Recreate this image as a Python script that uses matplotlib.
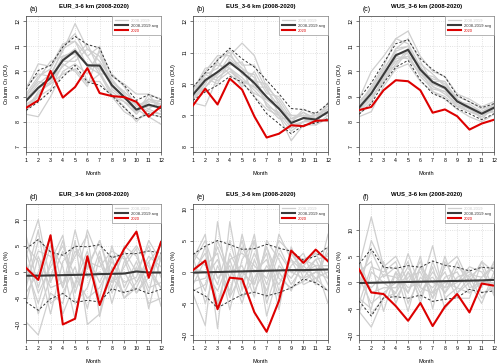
import matplotlib.pyplot as plt

plt.rcParams['font.family'] = ['Liberation Sans', 'DejaVu Sans']

months = list(range(1, 13))

# ---- top row: column O3 (DU) ----
eur_red = [8.55, 8.85, 10.02, 8.96, 9.38, 10.13, 9.14, 9.02, 8.98, 8.79, 8.2, 8.61]
eur_avg = [8.83, 9.35, 9.74, 10.44, 10.81, 10.24, 10.23, 9.45, 8.98, 8.48, 8.68, 8.55]
eur_hi = [9.27, 10.04, 10.24, 10.97, 11.39, 11.07, 10.93, 9.84, 9.45, 8.85, 9.08, 8.88]
eur_lo = [8.45, 8.79, 9.22, 9.78, 10.24, 9.58, 9.45, 9.05, 8.56, 8.12, 8.32, 8.19]
eur_years = [
    [8.9, 9.5, 9.9, 10.8, 11.9, 10.9, 10.6, 9.6, 9.1, 8.3, 8.9, 8.6],
    [8.3, 8.2, 9.0, 10.0, 10.3, 9.9, 10.8, 9.3, 8.9, 8.7, 8.4, 8.3],
    [9.3, 10.3, 10.2, 11.1, 11.2, 10.2, 9.9, 9.9, 9.4, 8.6, 8.9, 8.8],
    [8.6, 9.1, 9.6, 10.2, 10.6, 11.1, 10.0, 9.1, 8.6, 8.0, 8.5, 8.3],
    [9.0, 9.7, 10.4, 10.6, 10.8, 9.6, 9.6, 9.0, 8.8, 8.5, 8.2, 7.9],
    [8.5, 9.0, 9.3, 10.3, 10.0, 9.4, 10.9, 9.8, 9.5, 9.1, 9.1, 8.9],
    [9.1, 9.8, 10.1, 11.0, 11.5, 10.6, 11.0, 9.4, 9.0, 8.4, 8.8, 8.7],
    [8.8, 9.3, 9.7, 10.6, 10.7, 10.3, 10.1, 9.6, 9.2, 8.7, 8.6, 8.6],
    [8.4, 9.2, 9.5, 9.9, 10.1, 9.5, 9.9, 9.0, 8.4, 8.1, 8.3, 8.2],
    [9.4, 9.9, 9.8, 10.4, 10.4, 10.9, 10.4, 9.7, 9.1, 8.5, 8.9, 8.7],
    [8.7, 9.0, 9.8, 10.9, 11.2, 10.6, 9.9, 9.2, 8.8, 8.3, 9.1, 8.4],
    [9.0, 9.6, 9.5, 10.5, 10.9, 10.2, 10.3, 9.5, 9.0, 8.8, 8.5, 8.9],
]

eus_red = [9.32, 9.85, 9.35, 10.17, 9.82, 8.97, 8.3, 8.42, 8.69, 8.66, 8.83, 8.85]
eus_avg = [9.66, 10.12, 10.38, 10.68, 10.38, 10.03, 9.59, 9.22, 8.76, 8.92, 8.87, 9.11]
eus_hi = [9.9, 10.35, 10.75, 11.14, 10.8, 10.54, 10.12, 9.69, 9.22, 9.19, 9.06, 9.38]
eus_lo = [9.48, 9.75, 9.96, 10.24, 10.06, 9.59, 9.06, 8.74, 8.42, 8.69, 8.76, 8.9]
eus_years = [
    [9.8, 10.4, 10.9, 10.9, 11.3, 10.9, 9.9, 9.5, 8.9, 9.1, 8.9, 9.4],
    [9.4, 9.3, 10.2, 10.5, 10.2, 9.8, 9.4, 9.0, 8.2, 8.7, 8.7, 9.0],
    [9.9, 10.3, 10.5, 11.1, 10.6, 10.6, 9.8, 9.3, 8.8, 9.2, 9.0, 9.2],
    [9.5, 10.0, 10.7, 10.3, 10.0, 9.7, 9.5, 9.4, 8.6, 8.8, 8.8, 8.9],
    [9.7, 10.2, 10.0, 10.8, 10.4, 10.3, 9.3, 8.9, 8.9, 9.0, 8.9, 9.3],
    [9.6, 9.9, 10.3, 10.6, 10.7, 9.9, 9.9, 9.0, 8.5, 8.8, 9.0, 9.1],
    [9.8, 10.5, 10.6, 10.5, 9.9, 10.4, 9.7, 9.6, 9.0, 9.0, 8.7, 8.9],
    [9.5, 10.1, 10.3, 10.9, 10.5, 9.6, 9.2, 9.0, 8.8, 8.9, 8.8, 9.4],
    [9.7, 10.3, 10.1, 10.4, 10.1, 9.9, 9.6, 9.2, 8.7, 8.8, 9.1, 9.0],
    [9.9, 10.0, 10.8, 11.0, 10.3, 10.1, 10.0, 9.4, 8.8, 9.1, 8.8, 9.2],
    [9.5, 9.9, 10.4, 10.7, 10.5, 10.2, 9.3, 9.1, 8.6, 8.8, 8.9, 8.8],
    [9.6, 10.4, 10.2, 10.5, 10.1, 9.9, 9.5, 9.2, 9.0, 9.0, 9.0, 9.2],
]

wus_red = [8.46, 8.59, 9.25, 9.65, 9.61, 9.25, 8.36, 8.49, 8.22, 7.69, 7.93, 8.08]
wus_avg = [8.56, 9.12, 9.88, 10.64, 10.86, 10.07, 9.58, 9.35, 8.81, 8.56, 8.32, 8.56]
wus_hi = [8.92, 9.54, 10.33, 11.1, 11.26, 10.5, 10.07, 9.78, 9.05, 8.79, 8.56, 8.72]
wus_lo = [8.3, 8.72, 9.54, 10.17, 10.44, 9.65, 9.12, 8.92, 8.52, 8.32, 8.08, 8.32]
wus_years = [
    [8.9, 10.0, 10.6, 11.3, 11.6, 10.6, 10.0, 9.8, 9.1, 8.9, 8.6, 8.8],
    [8.2, 8.4, 9.4, 10.1, 10.3, 9.6, 9.2, 8.9, 8.5, 8.2, 8.0, 8.3],
    [8.6, 9.2, 10.0, 10.9, 11.3, 10.4, 9.5, 9.3, 8.8, 8.7, 8.4, 8.6],
    [8.4, 8.9, 9.7, 10.5, 10.6, 9.9, 9.8, 9.5, 8.9, 8.6, 8.3, 8.5],
    [8.7, 9.4, 10.2, 11.3, 11.1, 10.2, 9.4, 9.1, 8.7, 8.4, 8.2, 8.7],
    [8.5, 9.0, 9.6, 10.3, 10.9, 10.0, 9.7, 9.6, 8.9, 8.5, 8.4, 8.4],
    [8.6, 9.3, 9.9, 10.7, 10.7, 9.8, 9.3, 9.2, 8.6, 8.6, 8.1, 8.6],
    [8.3, 8.8, 9.8, 10.4, 10.6, 10.3, 9.9, 9.4, 9.0, 8.8, 8.5, 8.7],
    [8.8, 9.3, 10.1, 10.8, 11.0, 10.1, 9.2, 9.0, 8.6, 8.4, 8.3, 8.4],
    [8.5, 9.0, 9.5, 10.6, 10.5, 9.9, 9.6, 9.6, 8.8, 8.5, 8.3, 8.5],
    [8.6, 9.1, 10.0, 10.2, 10.8, 10.2, 9.5, 9.3, 8.8, 8.6, 8.4, 8.7],
    [8.4, 9.2, 9.7, 10.9, 11.0, 9.9, 9.4, 9.2, 8.7, 8.5, 8.2, 8.5],
]

# ---- bottom row: column dO3 (%) ----
eur_dred = [0.8, -1.5, 7.0, -10.0, -8.9, 3.0, -6.3, 0.0, 4.4, 7.7, -1.1, 5.7]
eur_davg = [-0.7, -0.7, -0.65, -0.6, -0.55, -0.5, -0.4, -0.35, -0.3, 0.1, -0.1, -0.1]
eur_dhi = [4.4, 6.2, 3.8, 3.2, 4.9, 4.8, 5.2, 2.7, 3.5, 3.5, 4.0, 3.6]
eur_dlo = [-5.7, -7.3, -5.1, -4.1, -5.8, -5.4, -5.7, -3.2, -3.9, -3.2, -4.1, -3.3]
eur_dyears = [
    [3.0, 10.0, -2.0, 4.0, -3.0, 8.0, 2.0, -4.0, 1.0, 4.5, -7.0, 3.0],
    [-9.5, -12.0, -4.0, -6.0, 6.0, -10.0, -8.0, 3.0, -5.0, -3.0, 2.0, -6.5],
    [5.0, 2.0, -8.0, 2.0, 5.0, 0.5, 6.0, -2.0, 4.0, 0.0, 5.0, -1.0],
    [-3.0, 6.0, 4.0, -8.0, -2.0, 4.0, -5.0, 5.0, -3.0, 2.0, -4.0, 6.0],
    [1.0, -6.0, 2.0, 7.0, -6.0, -3.0, 4.0, -6.0, 2.0, 5.0, 1.0, -3.0],
    [-6.0, 3.0, -3.0, -2.0, 3.0, 7.0, -8.5, 1.0, -5.0, -2.0, 3.0, 1.0],
    [7.0, -3.0, 5.0, 1.0, -9.0, 2.0, 1.0, 4.0, 2.5, -4.0, -1.0, 3.5],
    [-1.0, 8.0, -6.0, -4.0, 1.0, -7.0, 3.0, -3.0, 5.0, 3.0, -3.0, -2.0],
    [4.0, -4.0, 1.0, 5.0, -1.0, -5.0, -3.0, 2.0, -2.0, -1.0, 6.0, 2.0],
    [-4.0, 0.0, 7.0, -3.0, 4.0, 1.0, 6.0, -1.0, -4.0, 1.0, -6.0, -5.0],
    [2.0, -8.0, -1.0, 6.0, -4.0, 3.0, -2.0, 3.0, 3.0, -2.0, 2.0, 5.0],
    [-2.0, 4.0, 3.0, -3.0, 8.0, -1.0, 0.0, -2.0, 0.0, -4.0, 0.0, -3.0],
]

eus_dred = [0.3, 1.8, -5.9, -0.9, -1.1, -6.4, -9.5, -4.6, 3.4, 1.45, 3.56, 1.7]
eus_davg = [-0.1, -0.05, 0.0, 0.05, 0.1, 0.15, 0.2, 0.25, 0.3, 0.3, 0.35, 0.4]
eus_dhi = [2.8, 4.1, 5.0, 4.35, 3.6, 3.7, 4.4, 3.8, 3.3, 1.9, 2.5, 4.0]
eus_dlo = [-2.8, -3.8, -5.7, -4.6, -3.6, -3.2, -3.8, -3.3, -2.5, -1.1, -1.7, -3.0]
eus_dyears = [
    [2.0, 6.0, -9.0, 8.0, -3.0, 5.0, -4.0, 6.0, 2.0, 0.0, 1.0, -5.0],
    [-3.5, -8.5, 8.0, -4.0, 6.0, -2.0, 4.0, -3.0, 1.0, 3.0, -2.0, 6.0],
    [3.0, 1.0, 3.0, -6.0, 2.0, 5.0, -7.0, 0.0, -3.0, 2.0, 3.0, -1.0],
    [-1.0, 4.0, -5.0, 2.0, -4.0, -1.0, 3.0, -6.0, 4.0, -1.0, 0.0, 3.0],
    [1.0, -3.0, 5.0, 0.0, 1.0, -4.0, 5.0, 2.0, -2.0, 1.0, -1.0, 0.0],
    [-2.0, 2.0, -2.0, 5.0, -2.0, 3.0, -2.0, 4.0, 0.0, -1.0, 2.0, -2.0],
    [2.5, -5.0, 1.0, -3.0, 4.0, 0.0, 2.0, -4.0, 3.0, 0.5, -2.0, 4.0],
    [0.0, 3.0, -6.0, 3.0, -1.0, 6.0, -5.0, 1.0, -1.0, 2.0, 1.0, 1.0],
    [-3.0, -2.0, 4.0, -1.0, 5.0, -3.0, 1.0, -2.0, 2.0, -2.0, -1.0, -3.0],
    [1.5, 5.0, -1.0, 1.0, -5.0, 2.0, -3.0, 3.0, 0.0, 1.0, 3.0, 2.0],
    [-1.5, -1.0, 2.0, -4.0, 0.0, -2.0, 4.0, -1.0, -2.5, -1.5, 0.0, -1.0],
    [0.5, 0.0, -3.0, 2.0, 3.0, 1.0, -1.0, 5.0, 3.0, 0.0, 2.0, 2.5],
]

wus_dred = [2.55, -1.9, -2.2, -4.5, -7.3, -3.9, -8.3, -4.6, -2.2, -5.7, -0.2, -0.6]
wus_davg = [-0.1, -0.05, 0.0, 0.05, 0.1, 0.15, 0.2, 0.25, 0.3, 0.35, 0.4, 0.5]
wus_dhi = [3.5, 6.4, 2.9, 2.7, 3.2, 2.9, 4.1, 3.3, 2.9, 2.2, 2.9, 2.7]
wus_dlo = [-3.5, -6.4, -2.9, -2.7, -3.0, -2.4, -3.6, -3.2, -2.9, -1.3, -1.9, -1.6]
wus_dyears = [
    [3.0, 12.5, 3.0, 5.0, 0.0, 4.0, -2.0, 3.0, 5.0, 0.0, 4.0, 2.0],
    [-5.5, -8.5, -3.0, -2.0, 5.5, -1.0, 7.0, -3.0, -1.0, 2.5, -2.0, -1.0],
    [2.0, 4.0, -5.5, 2.0, -5.5, 3.0, -3.0, 1.0, 2.0, -2.0, 1.0, 3.0],
    [-3.0, -5.0, 4.0, -4.0, 2.0, -3.0, 3.0, -5.0, -2.0, 1.0, -3.0, 0.0],
    [0.0, 6.0, 1.0, 3.0, -2.0, 5.0, -5.0, 4.0, 0.0, 3.0, 2.0, -2.0],
    [4.5, -2.0, -1.0, -1.0, 3.0, -2.0, 2.0, -1.0, 4.0, -1.0, 0.0, 1.0],
    [-4.0, 3.0, 2.0, 4.0, -4.0, 1.0, -1.0, 2.0, -3.0, -3.0, 4.0, -1.5],
    [1.0, -4.0, -2.0, 0.0, 4.0, -4.0, 4.0, -2.0, 1.0, 2.0, -1.0, 4.0],
    [-2.0, 8.0, 3.0, -3.0, 1.0, 2.0, -3.0, 5.0, -2.0, 0.0, -4.0, 2.0],
    [5.0, -6.0, -3.0, 2.0, -1.0, 0.0, 1.0, -2.0, 3.0, 1.0, 3.0, -2.5],
    [-6.0, 2.0, 0.0, -2.0, 2.0, -1.0, -2.0, 0.0, -1.0, -2.0, 0.0, 0.0],
    [1.0, -1.0, 1.5, 1.0, -2.0, 3.0, 0.0, -1.0, 0.0, 1.5, 1.0, 3.5],
]

regions = ['EUR', 'EUS', 'WUS']
labels = ['(a)', '(b)', '(c)', '(d)', '(e)', '(f)']
legend_labels = ['2008-2019', '2008-2019 avg', '2020']

panels = [
    (eur_years, eur_avg, eur_hi, eur_lo, eur_red, (7, 12), [7, 8, 9, 10, 11, 12]),
    (eus_years, eus_avg, eus_hi, eus_lo, eus_red, (8, 12), [8, 9, 10, 11, 12]),
    (wus_years, wus_avg, wus_hi, wus_lo, wus_red, (7, 12), [7, 8, 9, 10, 11, 12]),
    (eur_dyears, eur_davg, eur_dhi, eur_dlo, eur_dred, (-12, 12), [-10, -5, 0, 5, 10]),
    (eus_dyears, eus_davg, eus_dhi, eus_dlo, eus_dred, (-10, 10), [-10, -5, 0, 5, 10]),
    (wus_dyears, wus_davg, wus_dhi, wus_dlo, wus_dred, (-10, 14), [-10, -5, 0, 5, 10]),
]

W, H = 500, 364
fig = plt.figure(figsize=(5, 3.64), dpi=100)

lefts = [26, 193, 359]
tops = [16, 204]
pw, ph = 135, 136

for i, (years, avg, hi, lo, red, ylim, yt) in enumerate(panels):
    row, col = divmod(i, 3)
    ax = fig.add_axes([lefts[col] / W, 1 - (tops[row] + ph) / H, pw / W, ph / H])
    for yv in years:
        g, = ax.plot(months, yv, color='#cfcfcf', lw=0.9, zorder=2)
    ax.plot(months, hi, color='#333333', lw=0.7, ls=(0, (2.5, 2)), zorder=3)
    ax.plot(months, lo, color='#333333', lw=0.7, ls=(0, (2.5, 2)), zorder=3)
    a, = ax.plot(months, avg, color='#3a3a3a', lw=1.5, zorder=4)
    r, = ax.plot(months, red, color='#dd0000', lw=1.5, zorder=5)

    pad = (ylim[1] - ylim[0]) * 0.04
    ax.set_ylim(ylim[0] - pad, ylim[1] + pad)
    ax.set_xlim(1, 12)
    ax.set_xticks(months)
    ax.set_yticks(yt)
    ax.grid(True, color='#d8d8d8', ls=':', lw=0.6, zorder=0)
    ax.tick_params(labelsize=3.8, length=2.5, width=0.5, pad=1.5, color='#444444')
    for t in ax.get_yticklabels():
        t.set_rotation(90)
        t.set_va('center')
    for s in ax.spines.values():
        s.set_linewidth(0.6)
        s.set_color('#555555')

    ax.set_title(regions[col] + '_3-6 km (2008-2020)', fontsize=4.3, fontweight='bold', pad=6)
    ax.text(0.03, 1.02, labels[i], transform=ax.transAxes, fontsize=5, va='bottom', ha='left')
    ax.set_xlabel('Month', fontsize=4, labelpad=6)
    if row == 0:
        ax.set_ylabel('Column O$_3$ (DU)', fontsize=4, labelpad=3)
    else:
        ax.set_ylabel('Column $\\Delta$O$_3$ (%)', fontsize=4, labelpad=3)

    leg = ax.legend(handles=[g, a, r], labels=legend_labels,
                    loc='upper right', fontsize=3.0, frameon=True, fancybox=False,
                    handlelength=3.2, handletextpad=0.8, borderpad=0.6,
                    labelspacing=0.25, borderaxespad=0.0)
    leg.get_frame().set_edgecolor('#999999')
    leg.get_frame().set_linewidth(0.5)
    leg.get_frame().set_alpha(1)
    txts = leg.get_texts()
    txts[0].set_color('#cccccc')
    txts[1].set_color('#333333')
    txts[2].set_color('#dd0000')

fig.savefig('out.png', dpi=100)
